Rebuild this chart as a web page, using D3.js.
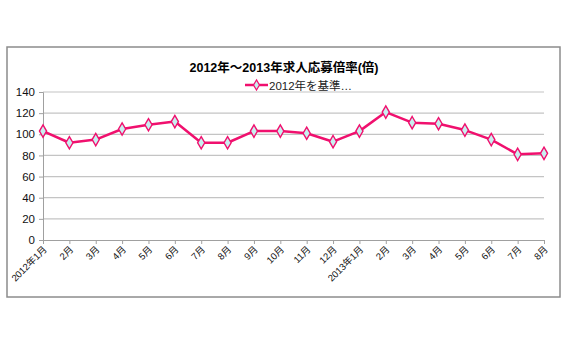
<!DOCTYPE html>
<html>
<head>
<meta charset="utf-8">
<script src="https://cdn.jsdelivr.net/npm/d3@7"></script>
<style>
  body { margin: 0; background: #fff; }
  #chart { width: 570px; height: 360px; }
  text { font-family: "Liberation Sans", Arial, "Noto Sans CJK JP", sans-serif; }
</style>
</head>
<body>
<div id="chart"></div>
<script>
// categories (x axis tick labels)
const months = ["2012年1月", "2月", "3月", "4月", "5月", "6月", "7月", "8月", "9月", "10月", "11月", "12月",
                "2013年1月", "2月", "3月", "4月", "5月", "6月", "7月", "8月"];
// series values
const ratio = [103, 92, 95, 105, 109, 112, 92, 92, 103, 103, 101, 93,
               103, 121, 111, 110, 104, 95, 81, 82];
const yTicks = [0, 20, 40, 60, 80, 100, 120, 140];
const seriesName = "2012年を基準…";
const titleText = "2012年～2013年求人応募倍率(倍)";

const width = 570, height = 360;
const margin = { top: 92, right: 26, bottom: 120, left: 43 };
const innerWidth = width - margin.left - margin.right;
const innerHeight = height - margin.top - margin.bottom;

const pink = "#f0106e";

const root = d3.select("#chart").append("svg")
    .attr("width", width)
    .attr("height", height);

// chart frame
root.append("rect")
    .attr("x", 7).attr("y", 47)
    .attr("width", 553).attr("height", 250)
    .attr("fill", "#fff")
    .attr("stroke", "#8c8c8c")
    .attr("stroke-width", 1.5);

// title
root.append("text")
    .attr("x", 284).attr("y", 72)
    .attr("text-anchor", "middle")
    .style("font-size", "12.5px")
    .style("font-weight", "bold")
    .text(titleText);

// legend
const legend = root.append("g").attr("transform", "translate(245,85)");
legend.append("line")
    .attr("x1", 0).attr("x2", 23)
    .attr("stroke", pink).attr("stroke-width", 2.5);
legend.append("path")
    .attr("transform", "translate(11.5,0)")
    .attr("d", d3.symbol(d3.symbolDiamond, 30)())
    .attr("fill", "#c8f0f0").attr("stroke", pink).attr("stroke-width", 1.2);
legend.append("text")
    .attr("x", 24).attr("y", 4.5)
    .style("font-size", "11.5px")
    .attr("fill", "#222")
    .text(seriesName);

const svg = root.append("g")
    .attr("transform", "translate(" + margin.left + "," + margin.top + ")");

const x = d3.scalePoint()
    .domain(d3.range(months.length))
    .range([0, innerWidth]);

const y = d3.scaleLinear()
    .domain([0, 140])
    .range([innerHeight, 0]);

// gridlines
svg.append("g")
    .selectAll("line")
    .data(yTicks.filter(d => d > 0))
    .enter().append("line")
    .attr("x1", 0).attr("x2", innerWidth)
    .attr("y1", d => y(d)).attr("y2", d => y(d))
    .attr("stroke", "#c4c4c4")
    .attr("stroke-width", 1.2);

// y axis
const yAxis = svg.append("g")
    .call(d3.axisLeft(y).tickValues(yTicks).tickSize(4).tickPadding(4));
yAxis.select(".domain").attr("stroke", "#a0a0a0");
yAxis.selectAll(".tick line").attr("stroke", "#a0a0a0");
yAxis.selectAll("text")
    .style("font-size", "11.5px")
    .style("font-family", "'Liberation Sans', Arial, sans-serif")
    .attr("fill", "#111");

// x axis
const xAxis = svg.append("g")
    .attr("transform", "translate(0," + innerHeight + ")")
    .call(d3.axisBottom(x).tickFormat(i => months[i]).tickSize(4).tickSizeOuter(0));
xAxis.select(".domain").attr("stroke", "#a0a0a0");
xAxis.selectAll(".tick line").attr("stroke", "#a0a0a0");
xAxis.selectAll("text")
    .attr("text-anchor", "end")
    .attr("x", 0).attr("y", 0)
    .attr("dx", 0).attr("dy", 0)
    .attr("transform", "translate(4,10) rotate(-45)")
    .style("font-size", "9.5px")
    .style("font-family", "'Liberation Sans', Arial, 'Noto Sans CJK JP', sans-serif")
    .attr("fill", "#111");

// line
const line = d3.line()
    .x((d, i) => x(i))
    .y(d => y(d));

svg.append("path")
    .datum(ratio)
    .attr("fill", "none")
    .attr("stroke", pink)
    .attr("stroke-width", 2.5)
    .attr("stroke-linejoin", "round")
    .attr("d", line);

// markers
svg.append("g")
    .selectAll("path")
    .data(ratio)
    .enter().append("path")
    .attr("transform", (d, i) => "translate(" + x(i) + "," + y(d) + ")")
    .attr("d", d3.symbol(d3.symbolDiamond, 44)())
    .attr("fill", "#c8f0f0")
    .attr("stroke", pink)
    .attr("stroke-width", 1.4);
</script>
</body>
</html>
